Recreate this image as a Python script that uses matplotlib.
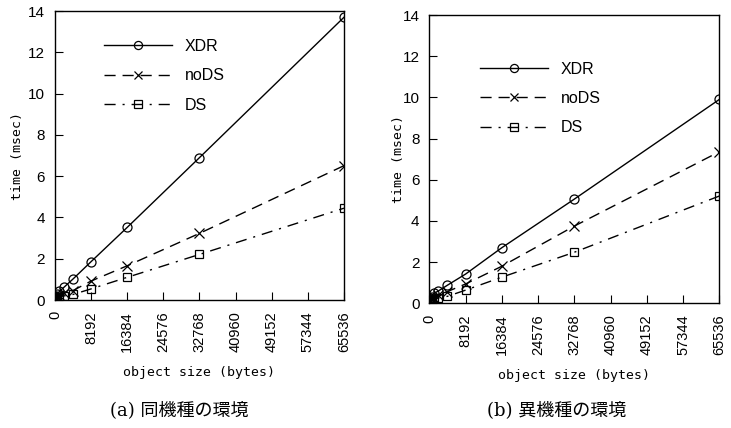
import matplotlib
matplotlib.use('Agg')
import matplotlib.pyplot as plt
from matplotlib import font_manager

# object sizes (bytes)
sizes = [16, 32, 64, 128, 256, 512, 1024, 2048, 4096, 8192, 16384, 32768, 65536]

# (a) same machine type
xdr_a = [0.12, 0.13, 0.14, 0.16, 0.20, 0.28, 0.42, 0.62, 1.02, 1.86, 3.52, 6.90, 13.70]
nods_a = [0.08, 0.08, 0.09, 0.10, 0.12, 0.16, 0.22, 0.33, 0.46, 0.92, 1.66, 3.23, 6.51]
ds_a = [0.07, 0.07, 0.08, 0.09, 0.10, 0.12, 0.16, 0.20, 0.27, 0.54, 1.10, 2.21, 4.45]

# (b) different machine types
xdr_b = [0.15, 0.16, 0.18, 0.20, 0.25, 0.33, 0.48, 0.60, 0.88, 1.42, 2.70, 5.06, 9.90]
nods_b = [0.10, 0.10, 0.11, 0.13, 0.16, 0.20, 0.28, 0.40, 0.57, 0.94, 1.80, 3.75, 7.36]
ds_b = [0.08, 0.08, 0.09, 0.10, 0.12, 0.15, 0.20, 0.26, 0.34, 0.64, 1.27, 2.48, 5.21]

xticks = [0, 8192, 16384, 24576, 32768, 40960, 49152, 57344, 65536]
yticks = [0, 2, 4, 6, 8, 10, 12, 14]
captions = ['(a) 同機種の環境', '(b) 異機種の環境']

# narrow font for legend if there is one
try:
    font_manager.findfont('Liberation Sans Narrow', fallback_to_default=False)
    narrow = 'Liberation Sans Narrow'
except Exception:
    narrow = 'Liberation Sans'

fig = plt.figure(figsize=(7.31, 4.28), dpi=100)
ax_a = fig.add_axes([0.0752, 0.299, 0.3953, 0.675])
ax_b = fig.add_axes([0.5873, 0.2913, 0.3967, 0.6736])

def draw(ax, xdr, nods, ds, caption, cap_x, legend_anchor, ylab_x):
    ax.plot(sizes, xdr, color='black', lw=1, ls='-', marker='o', ms=6.5,
            mfc='none', mew=0.9, label='XDR')
    ax.plot(sizes, nods, color='black', lw=1, ls=(0, (8, 5)), marker='x', ms=6.5,
            mew=0.9, label='noDS')
    ax.plot(sizes, ds, color='black', lw=1, ls=(0, (8, 5, 1.5, 5)), marker='s', ms=6,
            mfc='none', mew=0.9, label='DS')
    ax.set_xlim(0, 65536)
    ax.set_ylim(0, 14)
    ax.set_xticks(xticks)
    ax.set_xticklabels([str(t) for t in xticks], rotation=90, fontsize=10.5,
                       family='Liberation Sans', va='top')
    ax.set_yticks(yticks)
    ax.set_yticklabels([str(t) for t in yticks], fontsize=11, family='Liberation Sans')
    ax.tick_params(direction='in', length=6, width=0.8)
    ax.tick_params(axis='y', pad=7)
    ax.tick_params(axis='x', pad=8)
    for s in ax.spines.values():
        s.set_linewidth(1)
    ax.set_xlabel('object size (bytes)', family='DejaVu Sans Mono', fontsize=9.5, va='center')
    ax.xaxis.set_label_coords(0.5, -0.25)
    ax.set_ylabel('time (msec)', family='DejaVu Sans Mono', fontsize=9.5, va='center')
    ax.yaxis.set_label_coords(ylab_x, 0.5)
    ax.legend(loc='upper left', bbox_to_anchor=legend_anchor, frameon=False,
              handlelength=4.25, handletextpad=0.8, labelspacing=0.9,
              markerscale=0.9, prop={'family': narrow, 'size': 11.5})
    fig.text(cap_x, 1 - 410 / 428, caption, ha='center', va='center',
             fontsize=13, family=['DejaVu Serif', 'Noto Sans CJK JP'])

draw(ax_a, xdr_a, nods_a, ds_a, captions[0], 179 / 731, (0.12, 0.953), -0.131)
draw(ax_b, xdr_b, nods_b, ds_b, captions[1], 557 / 731, (0.126, 0.888), -0.107)

fig.savefig('out.png', dpi=100)
